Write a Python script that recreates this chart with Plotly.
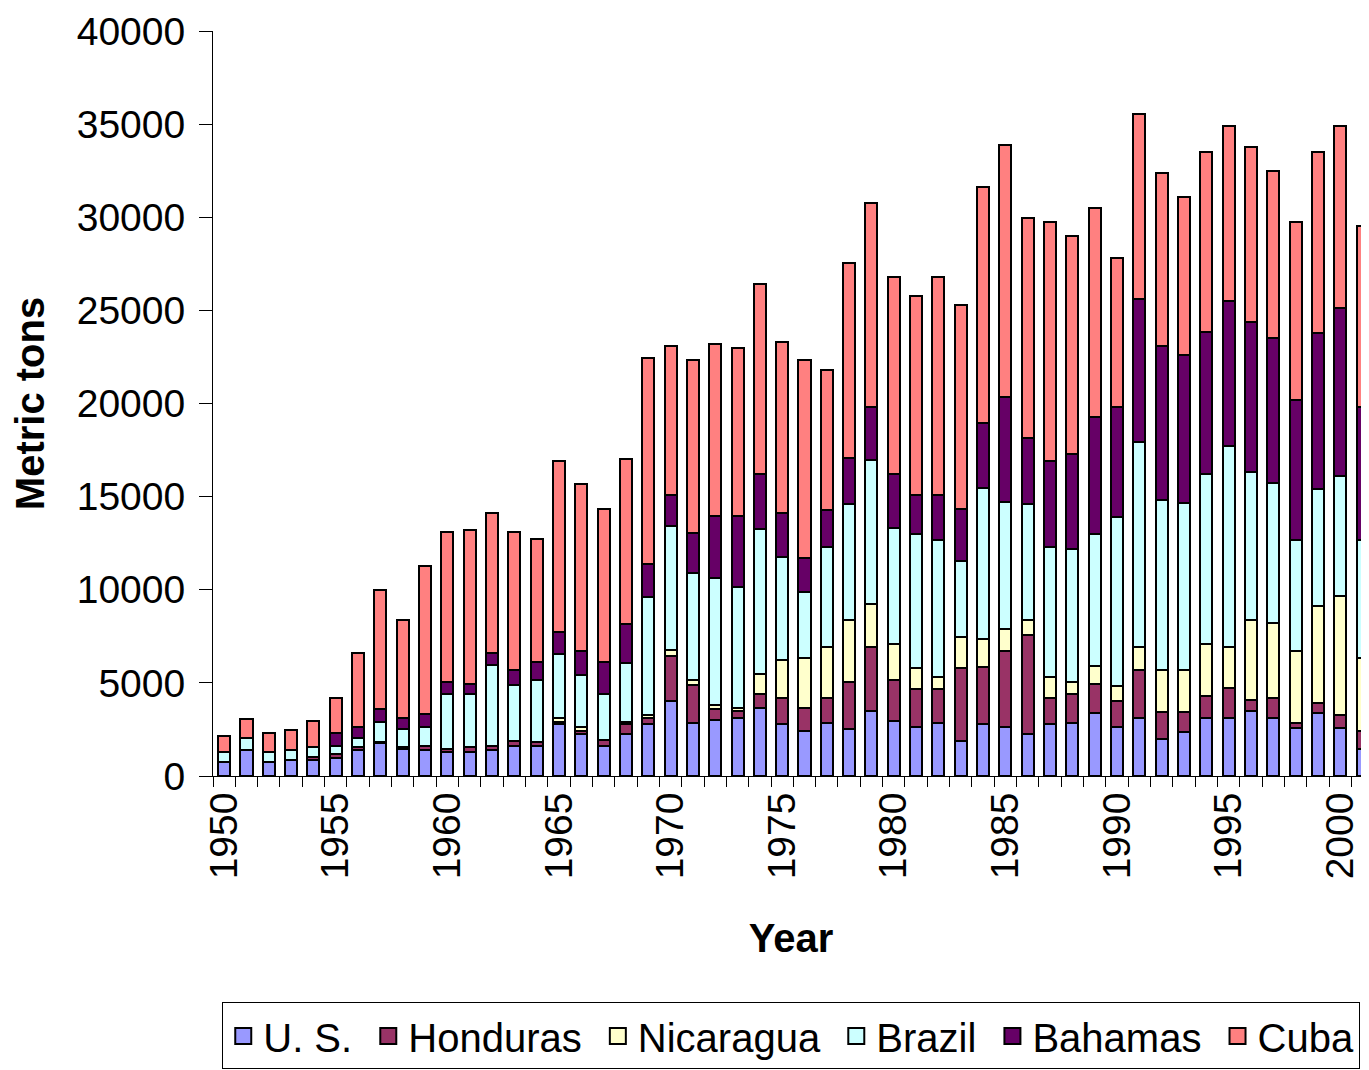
import plotly.graph_objects as go

years = list(range(1950, 2002))

us = [750, 1370, 740, 870, 850, 990, 1400, 1760, 1450, 1370,
      1280, 1280, 1370, 1600, 1600, 2770, 2250, 1600, 2250, 2780,
      4020, 2870, 3000, 3140, 3670, 2780, 2390, 2870, 2500, 3480,
      2980, 2630, 2860, 1880, 2770, 2650, 2240, 2770, 2860, 3390,
      2630, 3130, 2010, 2360, 3130, 3130, 3480, 3130, 2590, 3360,
      2590, 1470]
honduras = [0, 0, 0, 0, 150, 180, 140, 90, 100, 260,
            170, 260, 260, 300, 210, 130, 140, 330, 530, 310,
            2430, 2040, 620, 350, 740, 1420, 1280, 1330, 2530, 3460,
            2190, 2040, 1810, 3910, 3060, 4080, 5330, 1420, 1560, 1570,
            1380, 2570, 1420, 1070, 1150, 1580, 620, 1060, 270, 570,
            660, 930]
nicaragua = [0, 0, 0, 0, 0, 0, 0, 0, 0, 0,
             0, 0, 0, 0, 0, 240, 220, 0, 120, 160,
             290, 270, 170, 180, 1070, 2040, 2660, 2750, 3340, 2280,
             1920, 1120, 620, 1650, 1510, 1140, 800, 1100, 610, 950,
             800, 1240, 2270, 2270, 2810, 2230, 4270, 4030, 3850, 5180,
             6390, 3920]
brazil = [530, 650, 540, 550, 540, 460, 480, 1060, 1000, 1010,
          2960, 2870, 4310, 3010, 3370, 3400, 2830, 2480, 3160, 6360,
          6680, 5710, 6850, 6470, 7800, 5530, 3550, 5320, 6210, 7760,
          6200, 7230, 7370, 4090, 8130, 6840, 6210, 6980, 7150, 7110,
          9100, 11020, 9100, 8970, 9140, 10800, 7950, 7520, 5950, 6320,
          6490, 6340]
bahamas = [0, 0, 0, 0, 0, 660, 620, 670, 590, 680,
           640, 540, 660, 800, 920, 1170, 1280, 1690, 2080, 1770,
           1680, 2180, 3310, 3810, 2940, 2330, 1800, 2030, 2520, 2840,
           2940, 2060, 2420, 2820, 3460, 5630, 3590, 4620, 5100, 6270,
           5910, 7670, 8310, 7910, 7620, 7760, 8070, 7760, 7520, 8340,
           9020, 7160]
cuba = [880, 1030, 1010, 1030, 1420, 1910, 3960, 6420, 5260, 7980,
        8050, 8250, 7500, 7390, 6600, 9190, 8980, 8250, 8860, 11080,
        8000, 9250, 9250, 9010, 10180, 9200, 10640, 7500, 10450, 10930,
        10570, 10690, 11720, 10930, 12670, 13560, 11810, 12830, 11690, 11190,
        8000, 9910, 9270, 8520, 9650, 9420, 9380, 8990, 9540, 9730,
        9770, 9730]

series = [
    ("U. S.", us, "#9999FF"),
    ("Honduras", honduras, "#993366"),
    ("Nicaragua", nicaragua, "#FFFFCC"),
    ("Brazil", brazil, "#CCFFFF"),
    ("Bahamas", bahamas, "#660066"),
    ("Cuba", cuba, "#FF8080"),
]

font_family = "Liberation Sans, Arial, sans-serif"
title_family = "Liberation Sans Narrow, Arial Narrow, Liberation Sans, Arial, sans-serif"

fig = go.Figure()

for name, vals, color in series:
    fig.add_trace(go.Bar(
        x=years, y=vals,
        name=name,
        marker=dict(color=color, line=dict(color="black", width=2)),
        showlegend=False,
    ))
    # bigger legend squares than the default bar swatch
    label = name if name == "Cuba" else name + "\u00a0"
    fig.add_trace(go.Scatter(
        x=[None], y=[None],
        mode="markers",
        name=label,
        marker=dict(symbol="square", size=16, color=color,
                    line=dict(color="black", width=2)),
    ))

# page body adds an 8px offset, margins are set to compensate
fig.update_layout(
    barmode="stack",
    bargap=0.46,
    width=1369, height=1070,
    margin=dict(l=205, r=8, t=23, b=300),
    plot_bgcolor="white",
    paper_bgcolor="white",
    font=dict(family=font_family, color="black", size=38),
    xaxis=dict(
        range=[1949.5, 2001.29],
        tickvals=list(range(1950, 2001, 5)),
        tickangle=-90,
        ticks="",
        showline=True, linecolor="black", linewidth=1,
        showgrid=False, zeroline=False,
        tickfont=dict(size=39),
        automargin=False,
        ticklabeloverflow="allow",
        minor=dict(ticks="outside", dtick=1, tick0=1949.5, ticklen=10,
                   tickcolor="black", showgrid=False),
        title=dict(text="<b>Year</b>", font=dict(family=title_family, size=40),
                   standoff=45),
    ),
    yaxis=dict(
        range=[0, 40000],
        dtick=5000,
        tickformat="d",
        ticks="outside", ticklen=13, tickcolor="black",
        ticklabelstandoff=6,
        ticklabeloverflow="allow",
        showline=True, linecolor="black", linewidth=1,
        showgrid=False, zeroline=False,
        tickfont=dict(size=39),
        automargin=False,
        title=dict(text="<b>Metric tons</b>", font=dict(family=title_family, size=40),
                   standoff=25),
    ),
    legend=dict(
        orientation="h",
        traceorder="normal",
        x=0.008, xanchor="left",
        y=-0.304, yanchor="top",
        bordercolor="black", borderwidth=1,
        font=dict(size=40),
        itemsizing="trace",
        tracegroupgap=0,
    ),
)

fig.write_html("out.html")
